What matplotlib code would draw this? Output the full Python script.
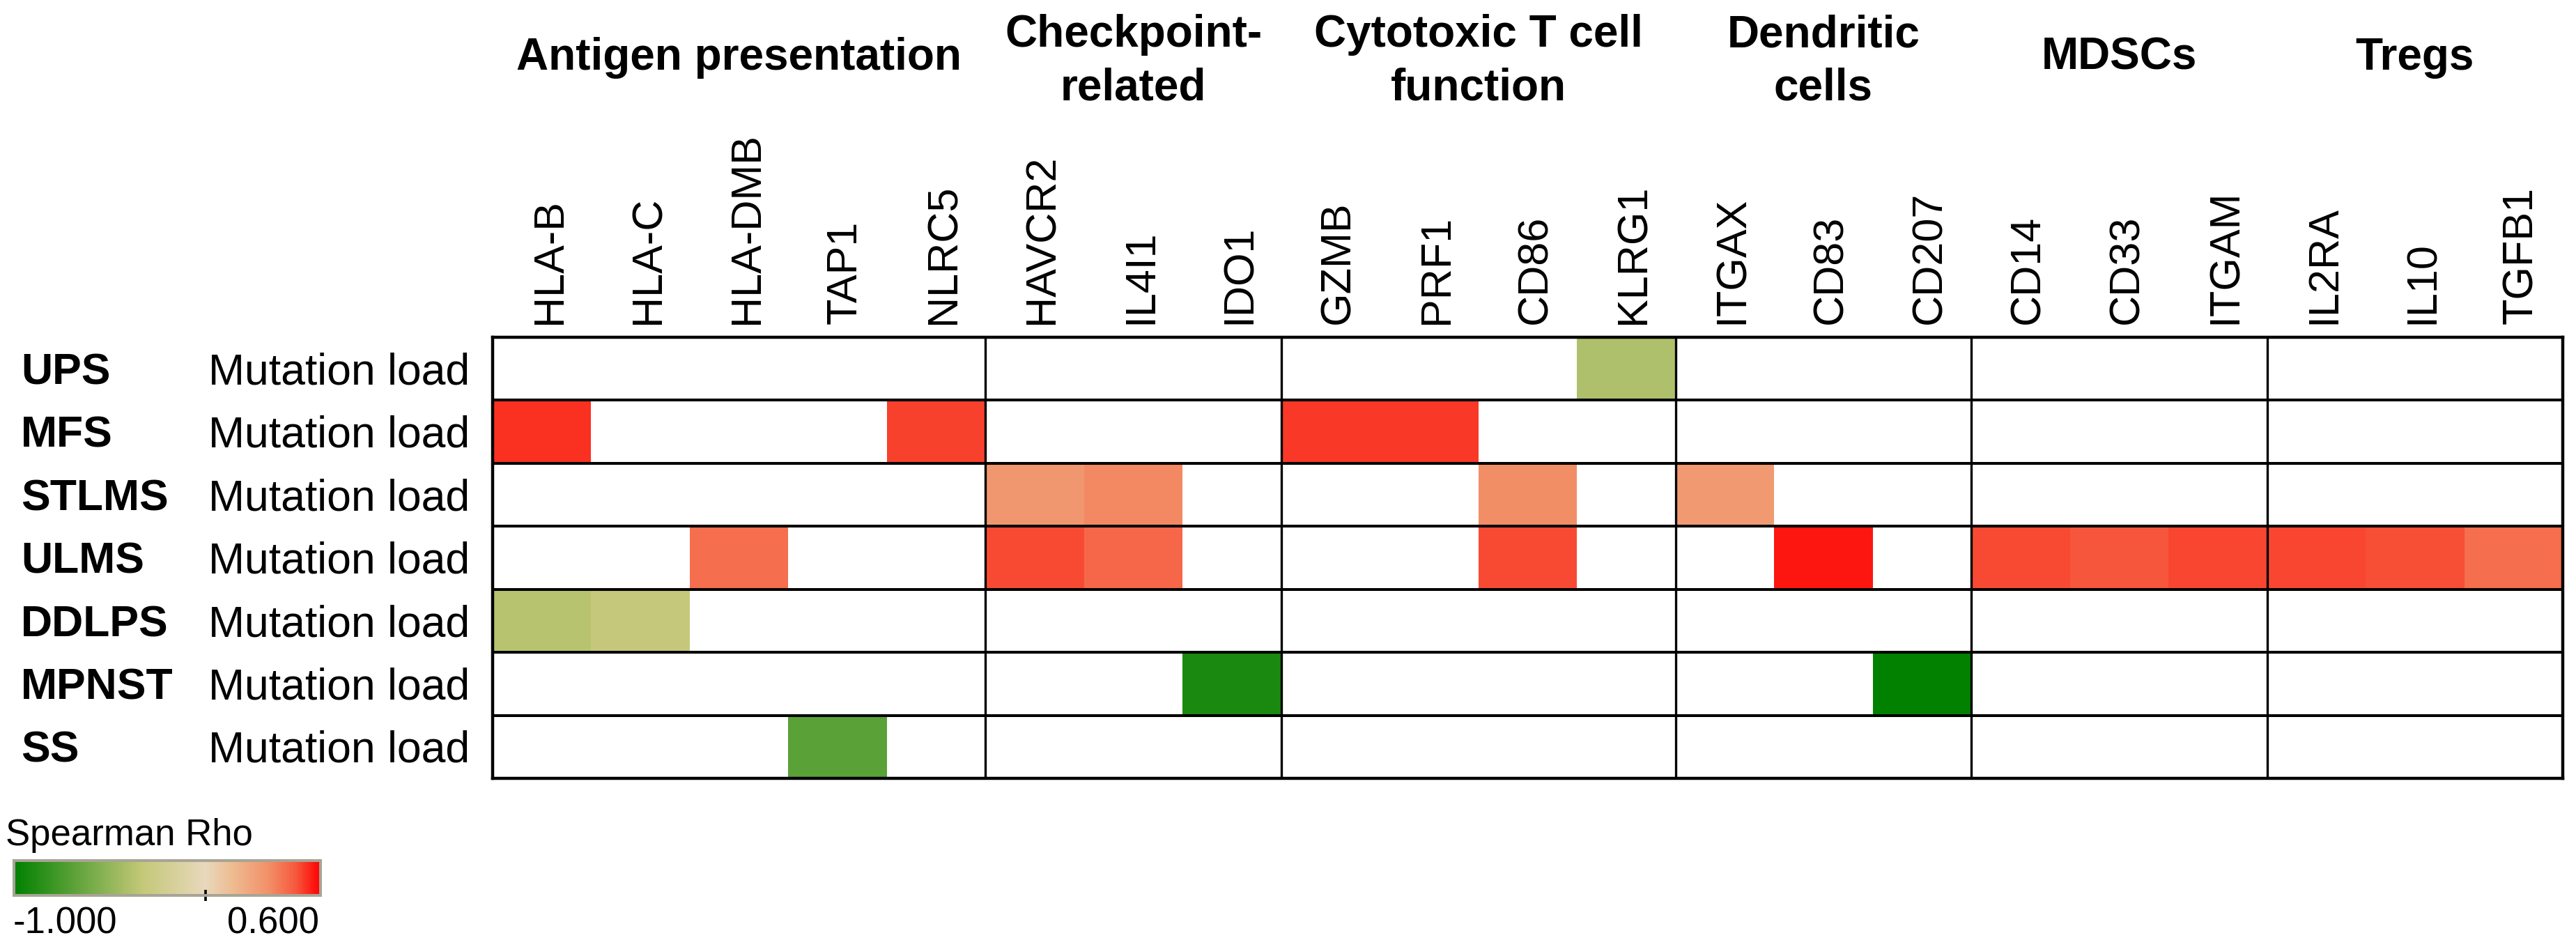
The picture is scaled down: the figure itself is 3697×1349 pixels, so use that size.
import numpy as np
import matplotlib.pyplot as plt
import matplotlib.transforms as mtransforms
from matplotlib.colors import LinearSegmentedColormap, Normalize
from matplotlib.cm import ScalarMappable

plt.rcParams['font.family'] = ['Liberation Sans', 'DejaVu Sans']

# ---- data ----
groups = ['Antigen presentation', 'Checkpoint-\nrelated', 'Cytotoxic T cell\nfunction',
          'Dendritic\ncells', 'MDSCs', 'Tregs']
group_sizes = [5, 3, 4, 3, 3, 3]
genes = ['HLA-B', 'HLA-C', 'HLA-DMB', 'TAP1', 'NLRC5',
         'HAVCR2', 'IL4I1', 'IDO1',
         'GZMB', 'PRF1', 'CD86', 'KLRG1',
         'ITGAX', 'CD83', 'CD207',
         'CD14', 'CD33', 'ITGAM',
         'IL2RA', 'IL10', 'TGFB1']
sarcomas = ['UPS', 'MFS', 'STLMS', 'ULMS', 'DDLPS', 'MPNST', 'SS']
feature = 'Mutation load'

# Spearman rho of significant correlations only (blank cells = not significant)
rho_ups = {'KLRG1': -0.40}
rho_mfs = {'HLA-B': 0.53, 'NLRC5': 0.505, 'GZMB': 0.516, 'PRF1': 0.516}
rho_stlms = {'HAVCR2': 0.295, 'IL4I1': 0.345, 'CD86': 0.337, 'ITGAX': 0.287}
rho_ulms = {'HLA-DMB': 0.413, 'HAVCR2': 0.49, 'IL4I1': 0.434, 'CD86': 0.49,
            'CD83': 0.563, 'CD14': 0.49, 'CD33': 0.47, 'ITGAM': 0.497,
            'IL2RA': 0.497, 'IL10': 0.485, 'TGFB1': 0.413}
rho_ddlps = {'HLA-B': -0.37, 'HLA-C': -0.32}
rho_mpnst = {'IDO1': -0.91, 'CD207': -0.99}
rho_ss = {'TAP1': -0.69}
rows = [rho_ups, rho_mfs, rho_stlms, rho_ulms, rho_ddlps, rho_mpnst, rho_ss]

vmin, vmax = -1.0, 0.6

rho = np.full((len(sarcomas), len(genes)), np.nan)
for i, r in enumerate(rows):
    for g, v in r.items():
        rho[i, genes.index(g)] = v

# colour scale: green -> khaki -> beige (0) -> salmon -> red
anchors = [(-1.0, '#008000'), (-0.33, '#c4c878'), (0.0, '#e8d8bc'), (0.14, '#eebc92'),
           (0.33, '#f29068'), (0.47, '#f65a3e'), (0.6, '#ff0000')]
cmap = LinearSegmentedColormap.from_list(
    'rho', [((v - vmin) / (vmax - vmin), c) for v, c in anchors])
norm = Normalize(vmin, vmax)

W, H = 3697, 1349
fig = plt.figure(figsize=(W / 100, H / 100), dpi=100)

def fx(px):
    return px / W

def fy(py):
    return 1 - py / H

# heatmap
gl, gr, gt, gb = 707, 3678, 484, 1117
ax = fig.add_axes([fx(gl), fy(gb), fx(gr - gl), (gb - gt) / H])
ax.pcolormesh(np.arange(len(genes) + 1), np.arange(len(sarcomas) + 1),
              np.ma.masked_invalid(rho), cmap=cmap, norm=norm)
ax.set_xlim(0, len(genes))
ax.set_ylim(len(sarcomas), 0)
ax.set_xticks([])
ax.set_yticks([])
ax.hlines(np.arange(1, len(sarcomas)), 0, len(genes), color='black', lw=2.9)
ax.vlines(np.cumsum(group_sizes)[:-1], 0, len(sarcomas), color='black', lw=2.4)
for sp in ax.spines.values():
    sp.set_linewidth(3.2)

# column labels
tr_col = mtransforms.blended_transform_factory(ax.transData, fig.transFigure)
for j, g in enumerate(genes):
    ax.text(j + 0.58, fy(465), g, transform=tr_col, rotation=90,
            ha='center', va='bottom', fontsize=44)

# group headers
start = 0
for name, n in zip(groups, group_sizes):
    xc = start + n / 2
    lines = name.split('\n')
    if len(lines) == 1:
        ax.text(xc, fy(100), lines[0], transform=tr_col, ha='center',
                va='baseline', fontsize=46, fontweight='bold')
    else:
        for line, base in zip(lines, [67, 143]):
            ax.text(xc, fy(base), line, transform=tr_col, ha='center',
                    va='baseline', fontsize=46, fontweight='bold')
    start += n

# row labels
tr_row = mtransforms.blended_transform_factory(fig.transFigure, ax.transData)
for i, s in enumerate(sarcomas):
    ax.text(fx(30), i + 0.745, s, transform=tr_row, ha='left', va='baseline',
            fontsize=45, fontweight='bold')
    ax.text(fx(299), i + 0.745, feature, transform=tr_row, ha='left',
            va='baseline', fontsize=45)

# colour legend
cax = fig.add_axes([fx(20), fy(1285), fx(440), 50 / H])
cb = fig.colorbar(ScalarMappable(norm=norm, cmap=cmap), cax=cax,
                  orientation='horizontal', ticks=[0])
cb.outline.set_edgecolor('#a8a496')
cb.outline.set_linewidth(2.9)
cax.tick_params(axis='x', direction='inout', length=11, width=2.6,
                color='black', labelbottom=False)
fig.text(fx(8), fy(1213), 'Spearman Rho', fontsize=38, ha='left', va='baseline')
fig.text(fx(19), fy(1340), f'{vmin:.3f}', fontsize=38, ha='left', va='baseline')
fig.text(fx(458), fy(1340), f'{vmax:.3f}', fontsize=38, ha='right', va='baseline')

fig.savefig('out.png', dpi=100, facecolor='white')
